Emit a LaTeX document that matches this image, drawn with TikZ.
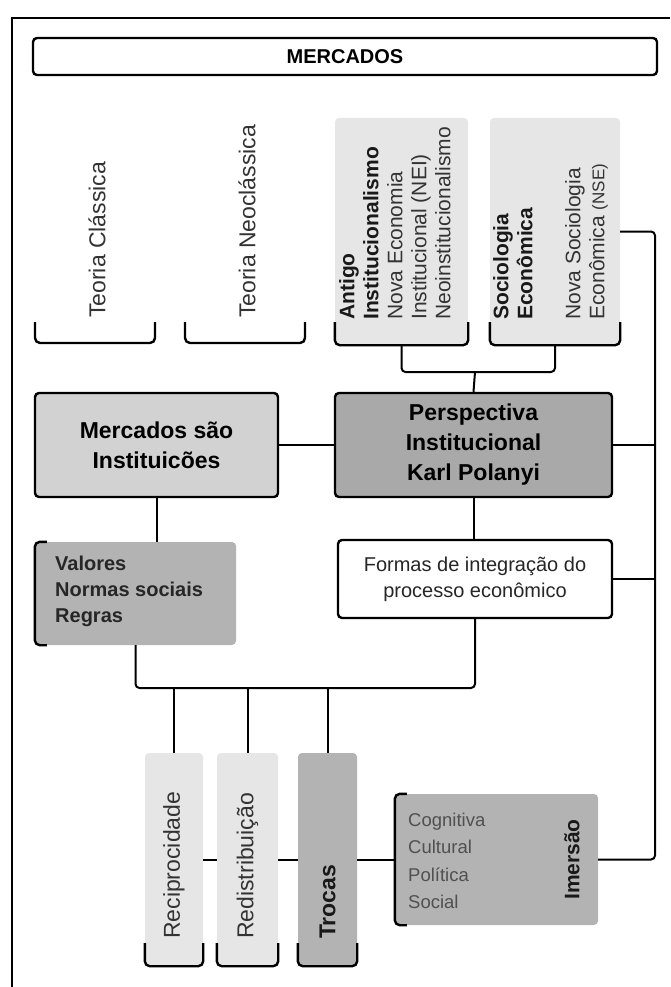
\documentclass[tikz,border=0pt]{standalone}
\usepackage{fontspec}
\setmainfont{Liberation Sans}
\definecolor{paleGray}{HTML}{E6E6E6}
\definecolor{lightGray}{HTML}{D2D2D2}
\definecolor{midGray}{HTML}{B3B3B3}
\definecolor{darkFill}{HTML}{A9A9A9}
\definecolor{inkGray}{HTML}{333333}
\definecolor{softInk}{HTML}{505050}
\begin{document}
\begin{tikzpicture}[x=1pt,y=-1pt,
  box/.style={draw=black, line width=2.4pt, rounded corners=4pt, inner sep=0pt, align=center},
  flat/.style={rounded corners=4pt, inner sep=0pt},
  brk/.style={draw=black, line width=2.4pt, rounded corners=5pt},
  link/.style={draw=black, line width=2pt, rounded corners=4pt},
  vtext/.style={rotate=90, inner sep=0pt, text=inkGray}
]
\useasboundingbox (0,0) rectangle (670,987);

% frame
\draw[line width=1.4pt] (12,987) -- (12,18) -- (670,18);

% title box
\node[box, minimum width=624pt, minimum height=37pt, font=\fontsize{20}{22}\selectfont\bfseries] (mercados) at (345,56.5) {MERCADOS};

% economic theories
\node[vtext, anchor=west, font=\fontsize{23}{26}\selectfont] (classica) at (97,318) {Teoria Clássica};
\draw[brk] (35,322) -- (35,343) -- (155,343) -- (155,322);
\node[vtext, anchor=west, font=\fontsize{23}{26}\selectfont] (neoclassica) at (247,318) {Teoria Neoclássica};
\draw[brk] (185,322) -- (185,343) -- (305,343) -- (305,322);

% institutional schools
\node[flat, fill=paleGray, minimum width=133pt, minimum height=227pt] (antigo) at (401.5,231.5) {};
\draw[brk] ([yshift=23pt]antigo.south west) -- (antigo.south west) -- (antigo.south east) -- ([yshift=23pt]antigo.south east);
\node[vtext, anchor=north west, align=left, font=\fontsize{21}{24}\selectfont] (antigoTxt) at (339,320)
  {\textbf{\color{black!90}Antigo}\\\textbf{\color{black!90}Institucionalismo}\\Nova Economia\\Institucional (NEI)\\Neoinstitucionalismo};

\node[flat, fill=paleGray, minimum width=130pt, minimum height=227pt] (socio) at (555,231.5) {};
\draw[brk] ([yshift=23pt]socio.south west) -- (socio.south west) -- (socio.south east) -- ([yshift=23pt]socio.south east);
\node[vtext, anchor=north west, align=left, font=\fontsize{21}{24}\selectfont] (socioTxt) at (493,320)
  {\textbf{\color{black!90}Sociologia}\\\textbf{\color{black!90}Econômica}\\\mbox{}\\Nova Sociologia\\Econômica {\fontsize{17}{17}\selectfont(NSE)}};

% central boxes
\node[box, fill=lightGray, minimum width=243pt, minimum height=104pt, font=\fontsize{23}{30}\selectfont\bfseries] (merc) at (156.5,445) {Mercados são\\Instituicões};
\node[box, fill=darkFill, minimum width=277pt, minimum height=104pt, font=\fontsize{23}{30}\selectfont\bfseries] (persp) at (473.5,445) {Perspectiva\\Institucional\\Karl Polanyi};

\node[flat, fill=midGray, minimum width=201pt, minimum height=103pt] (valores) at (135.5,593.5) {};
\draw[brk] ([xshift=12pt]valores.north west) -- (valores.north west) -- (valores.south west) -- ([xshift=12pt]valores.south west);
\node[anchor=west, align=left, inner sep=0pt, text=black!85, font=\fontsize{20}{26}\selectfont\bfseries] (valoresTxt) at (55,591) {Valores\\Normas sociais\\Regras};

\node[box, fill=white, minimum width=274pt, minimum height=78pt, text=black!85, font=\fontsize{20}{26}\selectfont] (formas) at (475,579) {Formas de integração do\\processo econômico};

% forms of integration
\node[flat, fill=paleGray, minimum width=58pt, minimum height=213pt] (recip) at (174,859.5) {};
\draw[brk] ([yshift=23pt]recip.south west) -- (recip.south west) -- (recip.south east) -- ([yshift=23pt]recip.south east);
\node[vtext, anchor=west, font=\fontsize{23}{26}\selectfont] (recipTxt) at (174,939) {Reciprocidade};

\node[flat, fill=paleGray, minimum width=61pt, minimum height=213pt] (redist) at (247.5,859.5) {};
\draw[brk] ([yshift=23pt]redist.south west) -- (redist.south west) -- (redist.south east) -- ([yshift=23pt]redist.south east);
\node[vtext, anchor=west, font=\fontsize{23}{26}\selectfont] (redistTxt) at (247.5,939) {Redistribuição};

\node[flat, fill=midGray, minimum width=59pt, minimum height=213pt] (trocas) at (327.5,859.5) {};
\draw[brk] ([yshift=23pt]trocas.south west) -- (trocas.south west) -- (trocas.south east) -- ([yshift=23pt]trocas.south east);
\node[vtext, anchor=west, text=black!90, font=\fontsize{23}{26}\selectfont\bfseries] (trocasTxt) at (327.5,939) {Trocas};

% embeddedness
\node[flat, fill=midGray, minimum width=203pt, minimum height=131pt] (imersao) at (496.5,859.5) {};
\draw[brk] ([xshift=12pt]imersao.north west) -- (imersao.north west) -- (imersao.south west) -- ([xshift=12pt]imersao.south west);
\node[anchor=west, align=left, inner sep=0pt, text=softInk, font=\fontsize{18.5}{27.5}\selectfont] (imersaoTxt) at (408,861) {Cognitiva\\Cultural\\Política\\Social};
\node[vtext, text=black!90, font=\fontsize{21}{24}\selectfont\bfseries] (imersaoTit) at (572,859.5) {Imersão};

% connectors
\coordinate (join) at (475,372);
\coordinate (rail) at (655,500);
\coordinate (bus) at (300,688);

\draw[link] (antigo.south) |- (join) -| (socio.south);
\draw[link] (join) -- (persp.north);
\draw[link] (socio.east) -- (socio.east -| rail) -- (rail |- imersao.east) -- (imersao.east);
\draw[link] (persp.east) -- (persp.east -| rail);
\draw[link] (formas.east) -- (formas.east -| rail);
\draw[link] (merc.east) -- (persp.west);
\draw[link] (merc.south) -- (merc.south |- valores.north);
\draw[link] (persp.south) -- (persp.south |- formas.north);
\draw[link] (valores.south) |- (bus) -| (formas.south);
\draw[link] (recip.north |- bus) -- (recip.north);
\draw[link] (redist.north |- bus) -- (redist.north);
\draw[link] (trocas.north |- bus) -- (trocas.north);
\draw[link] (recip.east) -- (redist.west);
\draw[link] (redist.east) -- (trocas.west);
\draw[link] (trocas.east) -- (imersao.west);
\end{tikzpicture}
\end{document}
